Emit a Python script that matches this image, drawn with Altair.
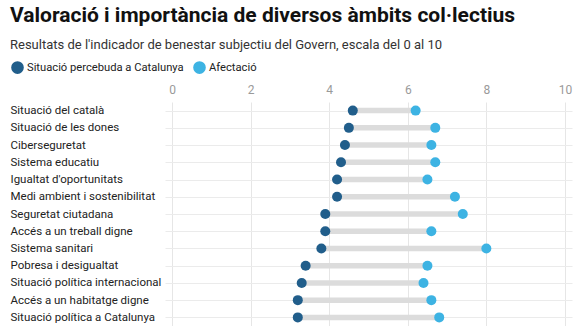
import altair as alt
import pandas as pd

categories = [
    "Situació del català", "Situació de les dones", "Ciberseguretat", "Sistema educatiu",
    "Igualtat d'oportunitats", "Medi ambient i sostenibilitat", "Seguretat ciutadana",
    "Accés a un treball digne", "Sistema sanitari", "Pobresa i desigualtat",
    "Situació política internacional", "Accés a un habitatge digne", "Situació política a Catalunya",
]
situacio = [4.6, 4.5, 4.4, 4.3, 4.2, 4.2, 3.9, 3.9, 3.8, 3.4, 3.3, 3.2, 3.2]
afectacio = [6.2, 6.7, 6.6, 6.7, 6.5, 7.2, 7.4, 6.6, 8.0, 6.5, 6.4, 6.6, 6.8]
series_names = ["Situació percebuda a Catalunya", "Afectació"]
colors = ["#215e8b", "#3db3e3"]
ticks = [0, 2, 4, 6, 8, 10]

wide = pd.DataFrame({"cat": categories, "sit": situacio, "afe": afectacio})
long = pd.concat([
    pd.DataFrame({"cat": categories, "value": situacio, "serie": series_names[0]}),
    pd.DataFrame({"cat": categories, "value": afectacio, "serie": series_names[1]}),
])

FONT = "Roboto"
xscale = alt.Scale(domain=[-0.18, 10.18], nice=False, zero=False)
yscale = alt.Scale(type="point", padding=0.5, domain=categories)

xaxis = alt.Axis(orient="top", values=ticks, grid=True, gridColor="#e6e6e6", domain=False,
                 ticks=False, labelColor="#9a9a9a", labelFontSize=12, labelFont=FONT,
                 labelPadding=6, title=None)
yaxis = alt.Axis(grid=True, gridColor="#ebebeb", domain=False, ticks=False, labelAlign="left",
                 labelPadding=155, labelFontSize=11.5, labelFont=FONT, labelColor="#222",
                 labelLimit=200, title=None)

rule = alt.Chart(wide).mark_rule(color="#dcdcdc", strokeWidth=5.5).encode(
    x=alt.X("sit:Q", scale=xscale, axis=xaxis),
    x2="afe:Q",
    y=alt.Y("cat:N", scale=yscale, axis=yaxis, sort=categories),
)

dots = alt.Chart(long).mark_circle(size=100, opacity=1).encode(
    x=alt.X("value:Q", scale=xscale),
    y=alt.Y("cat:N", scale=yscale, sort=categories),
    color=alt.Color("serie:N", scale=alt.Scale(domain=series_names, range=colors),
                    legend=alt.Legend(orient="none", legendX=-155, legendY=-42,
                                      direction="horizontal", title=None,
                                      symbolType="circle", symbolSize=160, labelFontSize=11.2,
                                      labelFont=FONT, labelColor="#222", columnPadding=8,
                                      symbolOpacity=1, labelOffset=2, labelLimit=300)),
)

chart = alt.layer(rule, dots).properties(
    width=407, height=224,
    padding={"left": 10, "top": 5, "right": 9, "bottom": 1},
    title=alt.Title(
        "Valoració i importància de diversos àmbits col·lectius",
        subtitle="Resultats de l'indicador de benestar subjectiu del Govern, escala del 0 al 10",
        anchor="start", font=FONT, fontSize=21, fontWeight="bold", color="#111",
        subtitleFont=FONT, subtitleFontSize=13, subtitleColor="#333", subtitlePadding=13,
        offset=8,
    ),
).configure_view(stroke=None)

chart.save("out.html", embed_options={"renderer": "svg", "actions": False})
